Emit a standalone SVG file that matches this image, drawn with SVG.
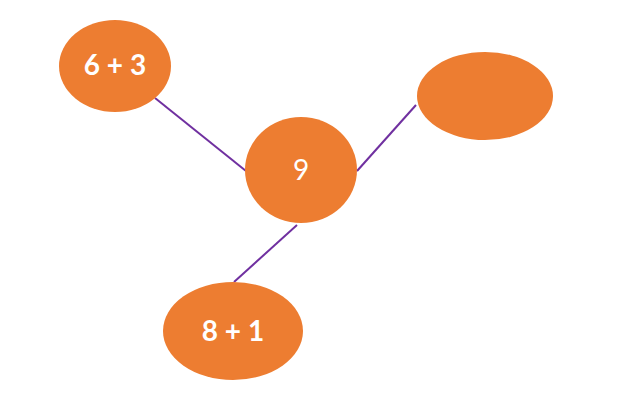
<svg xmlns="http://www.w3.org/2000/svg" width="618" height="400" viewBox="0 0 618 400">
<style>
.node{fill:#ED7D31;}
.lbl{font-family:"Lato","Liberation Sans",sans-serif;font-size:28px;fill:#ffffff;text-anchor:middle;}
.b{font-weight:bold;}
.edge{stroke:#7030A0;stroke-width:2;fill:none;}
</style>
<rect width="618" height="400" fill="#ffffff"/>
<g id="connectors">
<line class="edge" x1="155" y1="98" x2="246" y2="171"/>
<line class="edge" x1="357" y1="171" x2="416" y2="105"/>
<line class="edge" x1="297" y1="225" x2="234" y2="282"/>
</g>
<g id="n1"><ellipse class="node" cx="115" cy="66" rx="56" ry="46"/><text class="lbl b" x="115" y="75">6 + 3</text></g>
<g id="n2"><ellipse class="node" cx="301" cy="170" rx="56" ry="53"/><text class="lbl" x="301" y="180">9</text></g>
<g id="n3"><ellipse class="node" cx="485" cy="96" rx="68" ry="44"/></g>
<g id="n4"><ellipse class="node" cx="233" cy="331" rx="70" ry="49"/><text class="lbl b" x="233" y="341">8 + 1</text></g>
</svg>
